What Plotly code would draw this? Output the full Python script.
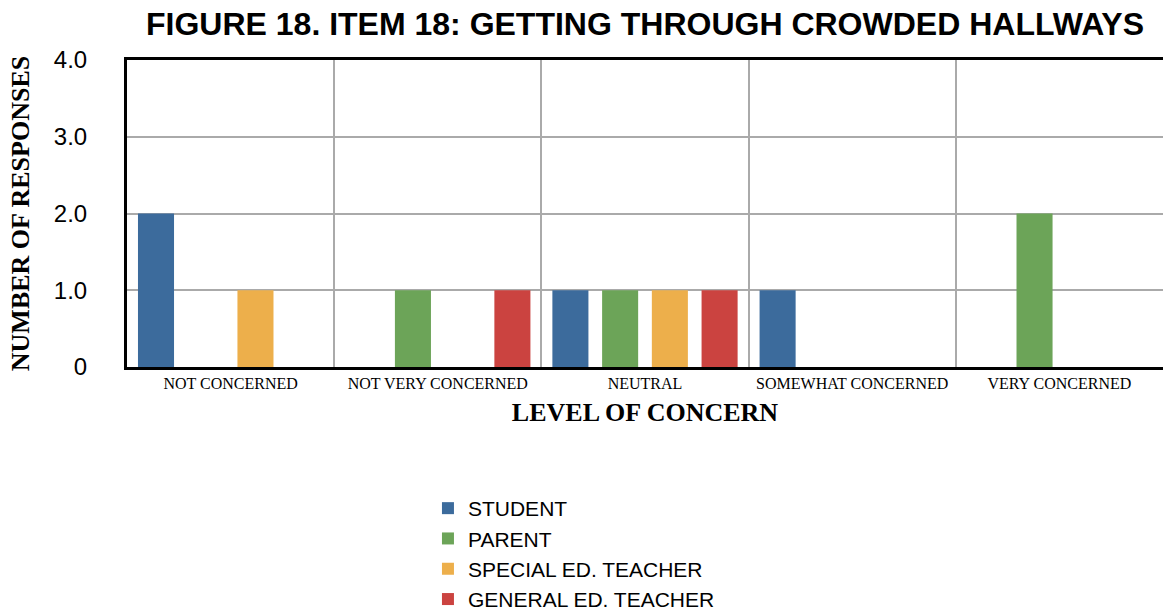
import plotly.graph_objects as go

categories = ["NOT CONCERNED", "NOT VERY CONCERNED", "NEUTRAL", "SOMEWHAT CONCERNED", "VERY CONCERNED"]
student = [2, 0, 1, 1, 0]
parent = [0, 1, 1, 0, 2]
special_ed = [1, 0, 1, 0, 0]
general_ed = [0, 1, 1, 0, 0]
series_names = ["STUDENT", "PARENT", "SPECIAL ED. TEACHER", "GENERAL ED. TEACHER"]
series_colors = ["#3c6b9c", "#6ca458", "#edaf4b", "#cb4340"]
y_tick_vals = [0, 1, 2, 3, 4]
y_tick_text = ["0", "1.0", "2.0", "3.0", "4.0"]

W, H = 1163, 610

fig = go.Figure()
for name, vals, col in zip(series_names, [student, parent, special_ed, general_ed], series_colors):
    fig.add_trace(go.Bar(x=categories, y=vals, name=name, marker=dict(color=col, line=dict(width=0))))

fig.update_layout(
    width=W, height=H,
    margin=dict(l=127, r=0, t=60, b=243, autoexpand=False),
    paper_bgcolor="white", plot_bgcolor="white",
    barmode="group", bargap=0.04, bargroupgap=0.275,
    title=dict(text="<b>FIGURE 18. ITEM 18: GETTING THROUGH CROWDED HALLWAYS</b>",
               x=0.5, xref="paper", xanchor="center", y=1 - 24 / H, yanchor="middle", yref="container",
               font=dict(family="Liberation Sans, Arial, sans-serif", size=32, color="black")),
    legend=dict(orientation="v", x=0.2905, xanchor="left", y=1 - 488 / H, yanchor="top", yref="container",
                font=dict(family="Liberation Sans, Arial, sans-serif", size=21, color="black"),
                tracegroupgap=0, itemclick=False, bgcolor="rgba(0,0,0,0)"),
    showlegend=True,
)
fig.update_xaxes(
    type="category", tickson="boundaries", showgrid=True, gridcolor="#aaaaaa", gridwidth=2,
    showline=True, linecolor="black", linewidth=3, mirror=True, ticks="", automargin=False,
    tickfont=dict(family="Liberation Serif, Times New Roman, serif", size=16, color="black"),
    title=dict(text="<b>LEVEL OF CONCERN</b>", standoff=12,
               font=dict(family="Liberation Serif, Times New Roman, serif", size=26, color="black")),
)
fig.update_yaxes(
    range=[0, 4], tickvals=y_tick_vals, ticktext=y_tick_text, showgrid=True, gridcolor="#aaaaaa", gridwidth=2,
    showline=True, linecolor="black", linewidth=3, ticks="", ticklabelstandoff=32, zeroline=False, automargin=False,
    tickfont=dict(family="Liberation Sans, Arial, sans-serif", size=24, color="black"),
    title=dict(text="<b>NUMBER OF RESPONSES</b>", standoff=17,
               font=dict(family="Liberation Serif, Times New Roman, serif", size=26, color="black")),
)
fig.write_html("out.html", config={"displayModeBar": False},
               post_script="document.body.style.margin='0';")
